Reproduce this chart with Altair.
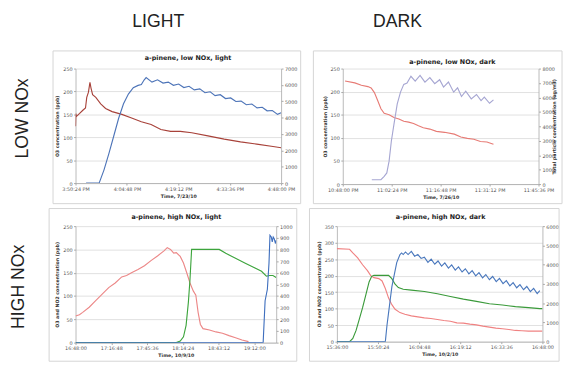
import altair as alt
import pandas as pd

FONT = "DejaVu Sans"
HFONT = "Liberation Sans"

# ---------------- data: time in minutes after midnight ----------------
# Panel 1: a-pinene, low NOx, light (7/23/10)
p1_o3_t = [950.4, 950.5, 950.6, 951.55, 952.45, 953.19, 953.54, 954.0, 954.44, 954.72, 955.18, 956.08,
           957.45, 958.82, 960.65, 963.38, 966.11, 968.84, 971.58, 974.31, 977.04, 979.77, 982.97,
           987.5, 992.07, 996.63, 1001.17, 1005.73, 1008.0]
p1_o3_v = [124, 152, 145, 152, 159, 164, 187, 198, 220, 208, 193, 187, 173, 163, 156, 150, 142, 134,
           128, 117, 113, 113, 110, 103, 96, 90, 85, 80, 77]
p1_pm_t = [953.35, 957.01, 958.38, 959.74, 961.11, 962.48, 963.84, 965.21, 966.58, 967.94, 968.84,
           969.6, 970.18, 971.82, 973.37, 974.92, 976.38, 977.83, 979.29, 980.75, 982.21, 983.67,
           985.22, 986.67, 988.13, 989.5, 990.96, 992.42, 993.87, 995.33, 996.79, 998.25, 999.8,
           1001.26, 1002.72, 1004.08, 1005.54, 1007.0, 1008.0]
p1_pm_v = [0, 0, 810, 1797, 2879, 3961, 4848, 5439, 5835, 5971, 6030, 6300, 6448, 6172, 6310, 6113,
           6172, 5975, 6054, 5837, 5915, 5696, 5758, 5521, 5580, 5344, 5403, 5166, 5206, 4989, 5009,
           4792, 4831, 4594, 4634, 4417, 4437, 4200, 4299]

# Panel 2: a-pinene, low NOx, dark (7/26/10)
p2_o3_t = [1368.67, 1371.55, 1373.47, 1375.39, 1376.35, 1377.31, 1378.27, 1379.23, 1380.19, 1381.63,
           1383.07, 1384.51, 1385.95, 1387.39, 1388.83, 1390.27, 1391.7, 1393.62, 1395.54, 1397.94,
           1400.82, 1402.74, 1404.66, 1406.58, 1408.5, 1410.42, 1412.34]
p2_o3_v = [223, 219, 214, 211, 208, 198, 181, 163, 153, 150, 144, 141, 136, 134, 131, 126, 122, 119,
           114, 112, 108, 102, 99, 97, 92, 91, 86]
p2_pm_t = [1376.54, 1379.23, 1380.19, 1380.96, 1381.63, 1382.3, 1383.07, 1384.03, 1384.99, 1385.95,
           1386.91, 1388.06, 1389.31, 1390.74, 1392.18, 1393.62, 1395.06, 1396.5, 1397.65, 1399.09,
           1400.63, 1401.78, 1402.93, 1404.18, 1405.81, 1407.35, 1408.69, 1409.65, 1411.19, 1412.34]
p2_pm_v = [303, 303, 536, 770, 1586, 2985, 4151, 5550, 6367, 6903, 6996, 7463, 7136, 7533, 7066,
           7369, 6950, 7229, 6716, 7066, 6367, 6670, 6063, 6437, 5900, 6203, 5784, 6017, 5597, 5830]

# Panel 3: a-pinene, high NOx, light (10/9/10)
p3_o3_t = [1008.0, 1011.14, 1013.76, 1019.0, 1024.23, 1029.47, 1034.71, 1039.95, 1045.18, 1049.11,
           1053.04, 1058.27, 1063.51, 1068.75, 1073.99, 1079.22, 1081.84, 1084.46, 1087.08, 1089.17,
           1092.31, 1094.93, 1097.55, 1100.17, 1102.79, 1104.88, 1106.71, 1108.55, 1110.64, 1115.88,
           1121.12, 1126.36, 1131.59, 1136.83, 1142.07, 1147.3]
p3_o3_v = [57, 60, 65, 76, 90, 104, 118, 128, 141, 144, 150, 157, 165, 176, 186, 197, 204, 200, 192,
           193, 185, 171, 150, 128, 111, 102, 65, 39, 30, 27, 23, 20, 15, 10.5, 5.6, 2.1]
p3_no2_t = [1008.0, 1089.17, 1092.31, 1094.93, 1097.03, 1098.86, 1100.17, 1101.48, 1123.74, 1128.97,
            1136.83, 1144.69, 1152.54, 1157.78, 1161.71, 1164.33, 1166.95, 1169.6]
p3_no2_v = [0, 0, 3.5, 12.6, 37.2, 86.4, 135.5, 200.1, 200.1, 191.7, 181.2, 170.6, 160.1, 153.1,
            142.6, 144, 144, 140]
p3_pm_t = [1008.0, 1159.09, 1160.66, 1162.49, 1163.8, 1164.59, 1165.64, 1166.42, 1167.2, 1168.0,
           1169.04, 1169.56]
p3_pm_v = [0, 0, 360, 458, 683, 921, 907, 865, 907, 893, 851, 879]

# Panel 4: a-pinene, high NOx, dark (10/2/10)
p4_o3_t = [936.0, 940.44, 941.58, 943.29, 945.0, 946.71, 947.85, 948.98, 950.69, 951.83, 952.97,
           954.11, 955.25, 956.39, 958.1, 959.8, 962.08, 964.36, 966.64, 968.92, 971.2, 973.47,
           975.75, 978.03, 980.31, 982.59, 984.87, 987.14, 989.42, 991.7, 993.98, 996.26, 998.54,
           1000.82, 1003.1, 1007.08, 1008.0]
p4_o3_v = [282, 280, 269, 254, 233, 215, 200, 194, 191, 184, 161, 132, 112, 98, 88, 83, 78, 75, 72,
           70, 67, 64, 62, 57, 56, 53, 51, 47, 44, 41, 39, 37, 34, 33, 32, 32, 32]
p4_no2_t = [936.0, 940.44, 941.58, 942.72, 943.86, 945.0, 946.14, 947.28, 948.19, 948.98, 954.11,
            955.25, 956.39, 957.53, 959.24, 962.08, 966.64, 971.2, 975.75, 980.31, 984.87, 989.42,
            993.98, 998.54, 1003.1, 1007.08, 1008.0]
p4_no2_v = [0, 0, 10, 34, 68, 103, 142, 181, 198, 201, 201, 191, 174, 164, 159, 156, 152, 145, 137,
            129, 122, 115, 111, 106, 103, 100, 100]
p4_pm_t = [936.0, 952.97, 953.54, 954.11, 954.68, 955.25, 956.16, 956.96, 958.1, 958.66, 959.23,
           960.03, 960.94, 962.08, 963.22, 964.36, 965.5, 966.64, 967.89, 969.03, 970.28, 971.42,
           972.67, 973.81, 975.07, 976.2, 977.46, 978.6, 979.85, 980.99, 982.24, 983.38, 984.63,
           985.77, 987.03, 988.16, 989.42, 990.56, 991.81, 992.95, 994.2, 995.34, 996.59, 997.73,
           998.98, 1000.12, 1001.38, 1002.52, 1003.77, 1004.91, 1006.16, 1007.08]
p4_pm_v = [0, 0, 838, 1508, 2179, 2849, 3519, 4106, 4525, 4609, 4525, 4659, 4525, 4692, 4441, 4525,
           4324, 4391, 4123, 4290, 4022, 4190, 3922, 4089, 3821, 3989, 3720, 3888, 3620, 3787, 3519,
           3687, 3419, 3586, 3318, 3486, 3218, 3385, 3117, 3285, 3017, 3167, 2899, 3067, 2799, 2966,
           2698, 2866, 2598, 2765, 2497, 2648]

# axis ticks (minutes after midnight)
p1_xticks = [950.4, 964.8, 979.2, 993.6, 1008.0]
p2_xticks = [1368.0, 1382.4, 1396.8, 1411.2, 1425.6]
p3_xticks = [1008.0, 1036.8, 1065.6, 1094.4, 1123.2, 1152.0]
p4_xticks = [936.0, 950.4, 964.8, 979.2, 993.6, 1008.0]

col_titles = ["LIGHT", "DARK"]
row_titles = ["LOW NOx", "HIGH NOx"]
panel_titles = ["a-pinene, low NOx, light", "a-pinene, low NOx, dark",
                "a-pinene, high NOx, light", "a-pinene, high NOx, dark"]
x_titles = ["Time, 7/23/10", "Time, 7/26/10", "Time, 10/9/10", "Time, 10/2/10"]
left_titles = ["O3 concentration (ppb)", "O3 concentration (ppb)",
               "O3 and NO2 concentration (ppb)", "O3 and NO2 concentration (ppb)"]
right_title = "Total particle concentration (ug/m3)"

AX = dict(labelFont=FONT, labelFontSize=5, labelColor="#555555", titleFont=FONT,
          titleFontSize=4.8, titleFontWeight="bold", titleColor="#333333",
          domainColor="#a8a8a8", domainWidth=0.8, tickColor="#a8a8a8", tickSize=2,
          labelPadding=1.5)


def make_panel(title, tx, ty, left, right, xdom, xticks, xfmt, xtitle, ytitle, ydom, ystep,
               rdom, rstep, rtitle, w, h, fl, fr, ft, fb, headers=()):
    x = alt.X("t:Q", scale=alt.Scale(domain=xdom, nice=False, zero=False),
              axis=alt.Axis(values=xticks,
                            labelExpr="utcFormat(round(datum.value*60000), '" + xfmt + "')",
                            grid=False, labelFlush=False, labelOverlap=False, title=xtitle,
                            titlePadding=2, **AX))
    yleft = alt.Y("v:Q", scale=alt.Scale(domain=ydom, nice=False),
                  axis=alt.Axis(orient="left", values=list(range(0, ydom[1] + 1, ystep)),
                                format="d", grid=True, gridColor="#d9d9d9", gridWidth=0.8,
                                title=ytitle, titlePadding=3, **AX))
    series = [
        alt.Chart(pd.DataFrame({"t": t, "v": v})).mark_line(strokeWidth=1.15, clip=True, color=c)
        .encode(x=x, y=yleft)
        for name, t, v, c in left
    ]
    lchart = alt.layer(*series)
    raxis = dict(orient="right", values=list(range(0, rdom[1] + 1, rstep)), format="d",
                 grid=False, titlePadding=2, titleAngle=270, **AX)
    raxis["title"] = rtitle
    rchart = alt.Chart(pd.DataFrame({"t": right[0], "v": right[1]})).mark_line(
        strokeWidth=1.15, clip=True, color=right[2]).encode(
        x=x, y=alt.Y("v:Q", scale=alt.Scale(domain=rdom, nice=False), axis=alt.Axis(**raxis)))
    one = pd.DataFrame({"k": [0]})
    frame = alt.Chart(one).mark_rect(filled=False, stroke="#d4d4d4", strokeWidth=1).encode(
        x=alt.value(-fl), x2=alt.value(w + fr), y=alt.value(-ft), y2=alt.value(h + fb))
    ttl = alt.Chart(one).mark_text(
        text=title, font=FONT, fontSize=6.5, fontWeight="bold", color="#222222",
        align="center", baseline="alphabetic").encode(x=alt.value(tx), y=alt.value(ty))
    layers = [frame, ttl]
    for text, hx, hy, ang in headers:
        layers.append(alt.Chart(one).mark_text(
            text=text, font=HFONT, fontSize=18, color="#222222", align="center",
            baseline="alphabetic", angle=ang).encode(x=alt.value(hx), y=alt.value(hy)))
    return alt.layer(*layers, lchart, rchart).resolve_scale(y="independent").properties(
        width=w, height=h)


p1 = make_panel(panel_titles[0], 115, -8.5,
                [("O3", p1_o3_t, p1_o3_v, "#a8423a")], (p1_pm_t, p1_pm_v, "#4d74b8"),
                [950.4, 1008.0], p1_xticks, "%-I:%M:%S %p", x_titles[0], left_titles[0],
                [0, 250], 50, [0, 7000], 1000, None, 210, 117, 23, 20, 18, 21,
                headers=[(col_titles[0], 84.5, -42.3, 0), (row_titles[0], -49, 51, 270)])
p2 = make_panel(panel_titles[1], 112, -4.5,
                [("O3", p2_o3_t, p2_o3_v, "#e77b75")], (p2_pm_t, p2_pm_v, "#a6a6d2"),
                [1368.0, 1425.6], p2_xticks, "%-I:%M:%S %p", x_titles[1], left_titles[1],
                [0, 250], 50, [0, 8000], 1000, right_title, 200, 118, 30, 24, 18, 20,
                headers=[(col_titles[1], 56, -42.3, 0)])
p3 = make_panel(panel_titles[2], 103, -7.5,
                [("O3", p3_o3_t, p3_o3_v, "#ec8787"), ("NO2", p3_no2_t, p3_no2_v, "#3ca43c")],
                (p3_pm_t, p3_pm_v, "#3f6fbe"),
                [1008.0, 1169.6], p3_xticks, "%H:%M:%S", x_titles[2], left_titles[2],
                [0, 250], 50, [0, 1000], 100, None, 205, 119, 27, 21, 18, 19,
                headers=[(row_titles[1], -53, 62, 270)])
p4 = make_panel(panel_titles[3], 106, -7.5,
                [("O3", p4_o3_t, p4_o3_v, "#f08282"), ("NO2", p4_no2_t, p4_no2_v, "#3a9a3a")],
                (p4_pm_t, p4_pm_v, "#4a78bd"),
                [936.0, 1008.0], p4_xticks, "%H:%M:%S", x_titles[3], left_titles[3],
                [0, 350], 50, [0, 6000], 1000, None, 210, 118, 28, 17, 18, 20)

row1 = alt.hconcat(p1, p2, spacing=11)
row2 = alt.hconcat(p3, p4, spacing=11)

chart = alt.vconcat(row1, row2, spacing=3).properties(
    padding={"left": 2, "top": 1, "right": 0, "bottom": 0},
    background="white",
).configure_view(stroke=None)

chart.save("out.html", embed_options={"renderer": "svg", "actions": False})
